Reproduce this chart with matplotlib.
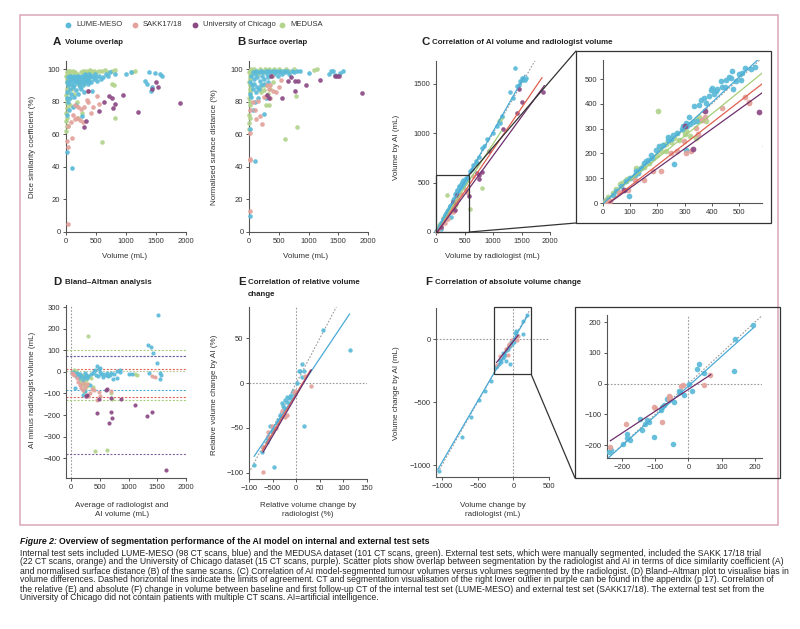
import matplotlib
matplotlib.use('Agg')
import matplotlib.pyplot as plt
from matplotlib import font_manager as fm
from matplotlib.patches import Rectangle, ConnectionPatch

# ---------------- DATA ----------------
datasets = ['LUME-MESO', 'SAKK17/18', 'University of Chicago', 'MEDUSA']

# A: volume (mL) vs Dice similarity coefficient (%)
A_LUME = [(20,92),(30,95),(40,90),(50,93),(60,96),(70,88),(80,94),(90,91),(100,95),(110,89),(120,93),(130,96),(140,90),(150,94),(160,92),(170,87),(180,95),(190,93),(200,96),(210,91),(220,94),(230,89),(240,95),(250,92),(260,96),(270,93),(280,90),(290,95),(300,94),(310,97),(320,92),(330,95),(340,93),(350,96),(360,91),(370,94),(380,97),(390,93),(400,95),(420,92),(440,96),(460,94),(480,97),(500,95),(520,93),(550,96),(580,94),(620,95),(660,97),(700,96),(740,98),(820,97),(1000,97),(1090,98),(1310,93),(1350,91),(1390,98),(1420,86.5),(1440,89),(1490,97.5),(1570,97),(1600,95.5),(95,39),(10,49),(20,72),(55,75),(110,77),(160,78),(80,85),(130,83),(260,71),(300,86),(430,86.5),(200,85),(250,88),(10,82),(15,86),(40,80),(60,82)]
A_SAKK = [(39,5),(28,52),(22,56),(95,58),(78,67.5),(150,69.5),(190,70),(234,69),(150,78),(300,76.6),(345,81.3),(362,79.7),(412,73),(457,77),(523,83.7),(551,78.7),(373,86.8),(251,75.6),(290,67.5),(28,65),(200,77),(120,72)]
A_CHI = [(1905,79.3),(1493,91.9),(1526,88.8),(1437,87.8),(1203,73.6),(947,84.3),(724,83.3),(763,82.3),(824,78.3),(780,76.2),(551,74.2),(362,86.4),(306,64.4),(329,68.1),(640,80)]
A_MED = [(5,62),(10,65),(8,68),(12,70),(5,73),(15,76),(10,79),(20,81),(5,84),(25,86),(15,88),(30,90),(10,92),(20,94),(35,95),(5,96),(40,97),(15,98),(25,99),(50,97),(60,99),(80,98),(100,96),(120,99),(150,98),(180,97),(200,92),(220,90),(250,98),(280,99),(300,98),(330,99),(350,97),(380,99),(400,99.5),(430,98),(460,99),(500,98),(550,99),(600,99),(650,99.5),(700,98),(760,99),(820,99.5),(1100,98.5),(1150,99),(600,55),(815,70),(765,91),(800,90),(200,70),(260,73),(100,88),(140,85),(60,78),(40,65),(300,91),(180,80)]

# B: volume (mL) vs normalised surface distance (%)
B_LUME = [(10,10),(95,43.5),(11,63),(22,85),(30,83),(100,80),(246,72.6),(60,75),(150,82),(291,82),(50,90),(20,92),(40,96),(60,98),(80,94),(100,97),(120,99),(140,95),(160,98),(180,93),(200,99),(220,96),(240,98),(260,94),(280,99),(300,97),(320,95),(340,99),(360,98),(380,96),(400,99),(420,97),(440,98),(460,99),(480,96),(500,98),(520,99),(550,97),(580,99),(610,98),(640,99),(680,97),(720,99),(760,98),(800,99),(850,99),(1008,97.4),(1383,98.6),(1439,96.5),(1523,97.4),(1579,98.6),(1350,97),(1420,99),(90,91),(130,89),(170,88),(110,86),(200,90),(250,91),(70,88),(320,92)]
B_SAKK = [(22,12.8),(11,44),(15,45),(22,60.8),(11,75),(95,75),(112,69.5),(179,71.5),(218,66.5),(151,80.7),(291,83.7),(340,88),(347,90.4),(403,86.4),(450,86),(504,89),(543,93.3),(347,82.3),(380,96),(60,80),(250,83),(300,90)]
B_CHI = [(1898,85.2),(1439,95.5),(1484,96),(1520,95.5),(1198,93.5),(952,90.4),(823,93),(767,86.4),(770,93),(711,95.3),(655,92.9),(560,82.3),(375,95.5),(310,84),(340,82)]
B_MED = [(5,63),(8,67),(10,70),(6,72),(12,78),(15,80),(8,82),(20,86),(10,88),(18,90),(6,92),(25,94),(12,96),(30,97),(8,98),(20,99),(40,100),(60,99),(90,100),(120,99),(150,97),(180,100),(210,99),(240,98),(270,100),(300,99),(340,100),(380,99),(420,100),(460,98),(500,100),(560,99),(620,100),(680,99),(750,100),(1100,99.5),(1150,99.8),(599,57.3),(812,64.4),(795,83.3),(291,78),(340,78),(250,87),(280,90),(350,88),(400,92),(200,86),(230,90),(180,88),(320,85)]

# C: radiologist volume vs AI volume (mL)
C_LUME = [(6,7),(18,17),(37,34),(49,47),(67,67),(85,87),(98,101),(116,114),(128,128),(140,141),(152,161),(165,175),(177,195),(195,215),(207,228),(220,235),(238,255),(256,276),(274,282),(293,309),(305,323),(317,349),(335,390),(354,397),(360,417),(372,423),(390,430),(396,457),(402,464),(415,450),(433,491),(439,470),(451,497),(463,508),(470,504),(476,531),(488,491),(506,497),(510,524),(524,544),(543,542),(561,547),(95,27),(262,157),(305,215),(120,130),(130,120),(160,170),(180,180),(240,265),(250,260),(290,300),(310,310),(320,320),(330,325),(345,330),(380,405),(410,440),(420,460),(450,470),(480,460),(500,520),(600,620),(650,680),(700,720),(750,760),(800,850),(850,870),(900,940),(994,999),(1064,1073),(1120,1100),(1150,1180),(1351,1356),(1298,1420),(1386,1657),(1415,1478),(1462,1490),(1474,1528),(1520,1538),(1561,1538),(1580,1560),(1500,1560),(640,640),(720,700)]
C_SAKK = [(12,7),(24,7),(91,54),(116,94),(150,92),(183,128),(213,130),(274,208),(305,202),(323,208),(299,249),(341,302),(366,336),(376,345),(439,382),(524,427),(537,403),(250,200),(655,570),(538,408),(350,280),(60,45)]
C_CHI = [(79,54),(302,309),(332,218),(375,371),(573,368),(1883,1420),(1462,1447),(1503,1319),(1415,1208),(1181,1039),(936,820),(713,600),(754,577),(754,533),(813,604)]
C_MED = [(10,12),(20,25),(37,40),(49,55),(61,75),(70,80),(80,90),(90,95),(98,100),(110,105),(122,141),(130,135),(146,148),(150,145),(170,160),(185,180),(200,195),(201,370),(207,222),(215,210),(220,235),(230,240),(232,208),(244,262),(250,245),(262,262),(274,282),(280,255),(293,296),(300,280),(305,289),(320,270),(341,262),(341,329),(345,340),(354,349),(360,335),(380,330),(700,690),(801,449),(596,229),(1100,1120),(1123,1134),(1150,1170)]
# regression fits (slope, intercept, x from, x to)
C_FIT = {'LUME': (1.02, -3, 0, 1560), 'MED': (0.89, 3, 0, 1150),
         'SAKK': (0.85, -17, 20, 1860), 'CHI': (0.79, -18, 25, 1900)}
C_IDENT = (0, 1750)

# D: Bland-Altman, average volume vs AI minus radiologist (mL)
D_LUME = [(1515,265),(1345,123),(1398,115),(1433,88),(1492,42),(1357,-3),(1562,-15),(1544,-35),(64,-74),(1006,-8),(1065,-11),(731,-35),(509,20),(450,26),(480,15),(420,10),(400,5),(380,-5),(350,-10),(300,-20),(280,-30),(260,-15),(240,-5),(220,-25),(200,-40),(180,-20),(160,-10),(140,-30),(120,-15),(100,-5),(80,-20),(60,-8),(40,-2),(20,-3),(550,-10),(600,-15),(650,-20),(700,-5),(750,-10),(800,5),(850,10),(560,-25),(620,-5),(680,-15),(500,0),(520,-8),(470,-20),(440,-15),(330,-60),(250,-90),(210,-105),(800,-30),(860,0),(1550,-5)]
D_SAKK = [(392,-85),(1463,-26),(216,-85),(150,-60),(100,-30),(60,-15),(40,-10),(120,-45),(170,-75),(200,-50),(240,-70),(280,-55),(300,-110),(330,-100),(360,-80),(260,-110),(450,-130),(480,-95),(500,-110),(700,-90),(1400,-20),(20,-5)]
D_CHI = [(1650,-457),(450,-189),(702,-185),(661,-235),(713,-212),(614,-82),(872,-128),(1111,-154),(1322,-205),(1415,-186),(262,-114),(280,-108),(620,-78),(480,-125),(700,-120)]
D_MED = [(287,165),(421,-366),(626,-361),(1141,-15),(1120,-12),(714,-128),(200,-30),(220,-50),(240,-60),(260,-40),(280,-25),(300,-55),(180,-45),(160,-35),(140,-20),(120,-10),(100,-5),(80,5),(60,10),(40,0),(320,-20),(350,-30),(380,-70),(250,-80),(230,-95),(700,-100),(210,-15),(190,-60),(270,-65)]
D_LIMITS = {'MED': (100, -130), 'LUME': (75, -85), 'CHI': (75, -380), 'SAKK': (15, -115)}
D_ZERO = 2

# E: relative volume change (%) radiologist vs AI
E_LUME = [(57,59),(113,36.5),(12.7,21.4),(7.8,13.9),(16,13.9),(12,6.8),(1.4,0),(16,-47.8),(-46.5,-94),(-89.4,-91.4),(-13.4,-15),(-16,-17),(-20,-20.7),(-26,-28),(-28,-25),(-35,-35),(-38,-41),(-41.6,-45),(-48.6,-49),(-52,-54.5),(-57,-60),(-62.7,-65.8),(-70,-71.4),(-73,-77),(-10,-13),(-6,-8.3),(-24,-18.8),(-30,-22),(-50,-52),(-55,-48),(-45,-50),(-20,-15),(-3,-12),(5,14),(-33,-38),(-60,-62)]
E_SAKK = [(32,-3),(-70,-99),(19.7,7.5),(-2.8,-8.6),(-5,-9.4),(-31,-31),(-24,-37.6),(-52,-48),(-43,-50),(-59,-59),(-70,-71),(-20,-36),(-60,-55)]
E_FIT = {'LUME': (0.786, -11.7, -89, 113), 'SAKK': (0.88, -12, -72, 30), 'CHI': (0.9, -14, -70, 32)}
E_IDENT = (-100, 87)
E_XTICKLABELS = ['−100', '−500', '0', '50', '100', '150']

# F: absolute volume change (mL) radiologist vs AI
F_LUME = [(-1042,-1045),(-719,-779),(-597,-620),(-484,-481),(-400,-415),(-316,-335),(193,191),(140,146),(137,41),(32,63),(25,46),(47,35),(10,-24),(3,0),(-15,-38),(-25,-27),(-29,-24),(-43,-59),(-48,-195),(-65,-49),(-80,-76),(-83,-86),(-105,-173),(-120,-124),(-125,-119),(-130,-132),(-140,-151),(-145,-114),(-185,-165),(-197,-195),(-185,-178),(-177,-184),(-233,-216),(-240,-222),(-60,-54),(-75,-70)]
F_SAKK = [(65,27),(47,-5),(-17,-5),(-22,-9),(-60,-41),(-60,-49),(-105,-76),(-100,-81),(-80,-124),(-188,-133),(-235,-205),(-55,-45)]
F_FIT = {'LUME': (0.97, -8, -1060, 195), 'CHI': (0.712, -18.7, -235, 67)}
F_IDENT = (-1080, 230)

# ---------------- STYLE ----------------
PT = {'LUME': '#5bbad8', 'SAKK': '#e3a29b', 'CHI': '#8c4a84', 'MED': '#b2d48d'}
LN = {'LUME': '#4aaad6', 'SAKK': '#e0604f', 'CHI': '#6e2f6c', 'MED': '#a5cd78'}
GREY = '#9a9a9a'
AXC = '#555555'
TXT = '#333333'

_names = {f.name for f in fm.fontManager.ttflist}
FONT = 'Liberation Sans Narrow' if 'Liberation Sans Narrow' in _names else 'Liberation Sans'
plt.rcParams['font.family'] = [FONT, 'DejaVu Sans']

W, H = 800, 629
fig = plt.figure(figsize=(8, 6.29), dpi=100)
renderer = fig.canvas.get_renderer()


def fit_size(text, target, weight='normal', style='normal'):
    t = fig.text(0, 0, text, fontsize=10, fontweight=weight, fontstyle=style)
    w = t.get_window_extent(renderer).width
    t.remove()
    return 10 * target / w


TICK_FS = fit_size('2000', 17)
LAB_FS = fit_size('Volume by radiologist (mL)', 95)
TITLE_FS = fit_size('Correlation of AI volume and radiologist volume', 180, 'bold')
LEG_FS = fit_size('LUME-MESO', 46)


def P(x, y):
    return x / W, 1 - y / H


def make_ax(l, t, r, b, xlim, ylim, xticks, yticks):
    ax = fig.add_axes([l / W, 1 - b / H, (r - l) / W, (b - t) / H])
    ax.set_xlim(*xlim)
    ax.set_ylim(*ylim)
    ax.patch.set_alpha(0)
    for s in ['top', 'right']:
        ax.spines[s].set_visible(False)
    for s in ['left', 'bottom']:
        ax.spines[s].set_color(AXC)
        ax.spines[s].set_linewidth(0.8)
    ax.set_xticks(xticks)
    ax.set_yticks(yticks)
    ax.tick_params(direction='out', length=2.5, width=0.7, colors=AXC,
                   labelsize=TICK_FS, labelcolor=TXT, pad=1.5)
    return ax


def scat(ax, pts, key, s=11, clip=False):
    xs, ys = zip(*pts)
    ax.scatter(xs, ys, s=s, c=PT[key], linewidths=0, alpha=0.92, zorder=3, clip_on=clip)


def fitline(ax, fit, key, lw=0.9):
    m, c, x0, x1 = fit
    ax.plot([x0, x1], [m * x0 + c, m * x1 + c], color=LN[key], lw=lw, zorder=4)


def ident(ax, rng):
    ax.plot(rng, rng, color=GREY, lw=0.8, ls=(0, (1.5, 1.5)), zorder=2)


def title(lx, tx, y, letter, text):
    fig.text(*P(lx, y), letter, fontsize=TITLE_FS * 1.45, fontweight='bold', color='#222222', va='center')
    fig.text(*P(tx, y), text, fontsize=TITLE_FS, fontweight='bold', color='#222222', va='center')


def xlab(x, y, text):
    fig.text(*P(x, y), text, fontsize=LAB_FS, color=TXT, ha='center', va='center', linespacing=1.25)


def ylab(x, y, text):
    fig.text(*P(x, y), text, fontsize=LAB_FS, color=TXT, ha='center', va='center', rotation=90)


# ---------------- BORDER + LEGEND ----------------
fig.add_artist(Rectangle(P(20, 525), 758 / W, 510 / H, transform=fig.transFigure,
                         fill=False, ec='#dba6b6', lw=1.1))
leg_x = [(68, 76), (135, 143), (195, 203), (282, 290)]
for (mx, tx), key, name in zip(leg_x, ['LUME', 'SAKK', 'CHI', 'MED'], datasets):
    fig.add_artist(plt.Line2D([mx / W], [1 - 25 / H], marker='o', ms=4.2, color=PT[key],
                              mec='none', ls='none', transform=fig.transFigure))
    fig.text(*P(tx, 25), name, fontsize=LEG_FS, color=TXT, va='center')

# ---------------- A ----------------
order = ['MED', 'LUME', 'SAKK', 'CHI']
A = {'LUME': A_LUME, 'SAKK': A_SAKK, 'CHI': A_CHI, 'MED': A_MED}
axA = make_ax(66, 61, 186, 232, (0, 2000), (0, 105), [0, 500, 1000, 1500, 2000], range(0, 101, 20))
for k in order:
    scat(axA, A[k], k)
title(53, 65, 42, 'A', 'Volume overlap')
ylab(32, 147, 'Dice similarity coefficient (%)')
xlab(125, 257, 'Volume (mL)')

# ---------------- B ----------------
B = {'LUME': B_LUME, 'SAKK': B_SAKK, 'CHI': B_CHI, 'MED': B_MED}
axB = make_ax(249, 61, 368, 232, (0, 2000), (0, 105), [0, 500, 1000, 1500, 2000], range(0, 101, 20))
for k in order:
    scat(axB, B[k], k)
title(237, 248, 42, 'B', 'Surface overlap')
ylab(215, 147, 'Normalised surface distance (%)')
xlab(306, 257, 'Volume (mL)')

# ---------------- C ----------------
C = {'LUME': C_LUME, 'SAKK': C_SAKK, 'CHI': C_CHI, 'MED': C_MED}
axC = make_ax(436, 61, 550, 232, (0, 2000), (0, 1733), [0, 500, 1000, 1500, 2000], [0, 500, 1000, 1500])
axCi = make_ax(603, 60, 762, 203, (0, 585), (0, 577), range(0, 501, 100), range(0, 501, 100))
ident(axC, C_IDENT)
ident(axCi, C_IDENT)
for k in order:
    scat(axC, C[k], k, s=11)
    scat(axCi, C[k], k, s=17, clip=True)
for k in ['MED', 'LUME', 'SAKK', 'CHI']:
    fitline(axC, C_FIT[k], k)
    fitline(axCi, C_FIT[k], k)
axC.add_patch(Rectangle((0, 0), 585, 580, fill=False, ec='#333333', lw=0.9, zorder=5, clip_on=False))
fig.add_artist(Rectangle(P(576, 223), 195 / W, 172 / H, transform=fig.transFigure,
                         fill=False, ec='#333333', lw=0.9))
for (xa, ya), (xb, yb) in [((585, 580), (576, 51)), ((585, 0), (576, 223))]:
    fig.add_artist(ConnectionPatch(xyA=(xa, ya), coordsA='data', axesA=axC,
                                   xyB=P(xb, yb), coordsB='figure fraction',
                                   color='#333333', lw=0.9))
title(422, 432, 42, 'C', 'Correlation of AI volume and radiologist volume')
ylab(397, 147, 'Volume by AI (mL)')
xlab(492, 257, 'Volume by radiologist (mL)')

# ---------------- D ----------------
D = {'LUME': D_LUME, 'SAKK': D_SAKK, 'CHI': D_CHI, 'MED': D_MED}
axD = make_ax(66, 305, 186, 478, (-87, 2000), (-492, 310), [0, 500, 1000, 1500, 2000], range(-400, 301, 100))
axD.axvline(0, color=GREY, lw=0.8, ls=(0, (1.5, 1.5)), zorder=2)
axD.axhline(D_ZERO, color='#b8c49a', lw=0.8, ls=(0, (1.5, 1.5)), zorder=2)
for k in ['MED', 'LUME', 'CHI', 'SAKK']:
    for v in D_LIMITS[k]:
        axD.axhline(v, color=LN[k] if k != 'CHI' else '#7a5a9a', lw=0.8, ls=(0, (1.8, 1.5)), zorder=2)
for k in order:
    scat(axD, D[k], k, s=9)
title(53, 65, 282, 'D', 'Bland–Altman analysis')
ylab(32, 390, 'AI minus radiologist volume (mL)')
xlab(122, 510, 'Average of radiologist and\nAI volume (mL)')

# ---------------- E ----------------
axE = make_ax(249, 307, 367, 479, (-100, 150), (-107, 85), [-100, -50, 0, 50, 100, 150], [-100, -50, 0, 50])
axE.set_xticklabels(E_XTICKLABELS)
axE.axvline(0, color=GREY, lw=0.8, ls=(0, (1.5, 1.5)), zorder=2)
axE.axhline(0, color=GREY, lw=0.8, ls=(0, (1.5, 1.5)), zorder=2)
ident(axE, E_IDENT)
scat(axE, E_LUME, 'LUME', s=10)
scat(axE, E_SAKK, 'SAKK', s=10)
fitline(axE, E_FIT['LUME'], 'LUME')
fitline(axE, E_FIT['SAKK'], 'SAKK')
fitline(axE, E_FIT['CHI'], 'CHI')
title(238, 248, 282, 'E', 'Correlation of relative volume')
fig.text(*P(248, 294), 'change', fontsize=TITLE_FS, fontweight='bold', color='#222222', va='center')
ylab(215, 395, 'Relative volume change by AI (%)')
xlab(308, 510, 'Relative volume change by\nradiologist (%)')

# ---------------- F ----------------
axF = make_ax(436, 308, 549, 477, (-1084, 500), (-1095, 246), [-1000, -500, 0, 500], [-1000, -500, 0])
axFi = make_ax(607, 315, 762, 458, (-245, 221), (-242, 223), range(-200, 201, 100), range(-200, 201, 100))
for ax, s, clip in ((axF, 9, False), (axFi, 16, True)):
    ax.axvline(0, color=GREY, lw=0.8, ls=(0, (1.5, 1.5)), zorder=2)
    ax.axhline(0, color=GREY, lw=0.8, ls=(0, (1.5, 1.5)), zorder=2)
    ident(ax, F_IDENT)
    scat(ax, F_LUME, 'LUME', s=s, clip=clip)
    scat(ax, F_SAKK, 'SAKK', s=s, clip=clip)
    fitline(ax, F_FIT['LUME'], 'LUME')
    fitline(ax, F_FIT['CHI'], 'CHI')
axF.add_patch(Rectangle((-270, -280), 520, 530, fill=False, ec='#333333', lw=0.9, zorder=5, clip_on=False))
fig.add_artist(Rectangle(P(575, 478), 205 / W, 171 / H, transform=fig.transFigure,
                         fill=False, ec='#333333', lw=0.9))
for (xa, ya), (xb, yb) in [((250, 250), (575, 307)), ((250, -280), (575, 478))]:
    fig.add_artist(ConnectionPatch(xyA=(xa, ya), coordsA='data', axesA=axF,
                                   xyB=P(xb, yb), coordsB='figure fraction',
                                   color='#333333', lw=0.9))
title(425, 435, 282, 'F', 'Correlation of absolute volume change')
ylab(397, 393, 'Volume change by AI (mL)')
xlab(493, 510, 'Volume change by\nradiologist (mL)')

# ---------------- CAPTION ----------------
cap_title_a = 'Figure 2: '
cap_title_b = 'Overview of segmentation performance of the AI model on internal and external test sets'
cap_lines = [
    'Internal test sets included LUME-MESO (98 CT scans, blue) and the MEDUSA dataset (101 CT scans, green). External test sets, which were manually segmented, included the SAKK 17/18 trial',
    '(22 CT scans, orange) and the University of Chicago dataset (15 CT scans, purple). Scatter plots show overlap between segmentation by the radiologist and AI in terms of dice similarity coefficient (A)',
    'and normalised surface distance (B) of the same scans. (C) Correlation of AI model-segmented tumour volumes versus volumes segmented by the radiologist. (D) Bland–Altman plot to visualise bias in',
    'volume differences. Dashed horizontal lines indicate the limits of agreement. CT and segmentation visualisation of the right lower outlier in purple can be found in the appendix (p 17). Correlation of',
    'the relative (E) and absolute (F) change in volume between baseline and first follow-up CT of the internal test set (LUME-MESO) and external test set (SAKK17/18). The external test set from the',
    'University of Chicago did not contain patients with multiple CT scans. AI=artificial intelligence.',
]
CAP_FS = min(fit_size(line, 770) for line in cap_lines)
CAPT_FS = fit_size(cap_title_a + cap_title_b, 410, 'bold')
t1 = fig.text(*P(20, 543.5), 'Figure 2:', fontsize=CAPT_FS, fontweight='bold', fontstyle='italic',
              color='#111111', va='baseline')
w1 = t1.get_window_extent(renderer).width
fig.text(*P(20 + w1 + CAPT_FS * 0.3, 543.5), cap_title_b, fontsize=CAPT_FS, fontweight='bold',
         color='#111111', va='baseline')
for i, line in enumerate(cap_lines):
    fig.text(*P(20, 555.5 + 9.0 * i), line, fontsize=CAP_FS, color='#222222', va='baseline')

fig.savefig('out.png', dpi=100)
